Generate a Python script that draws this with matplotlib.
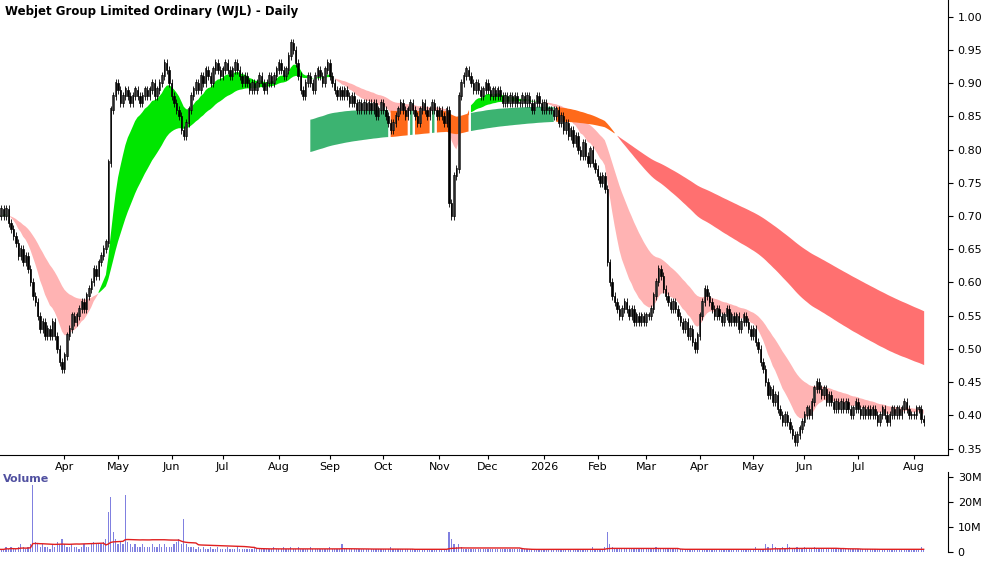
import numpy as np, pandas as pd, matplotlib
matplotlib.use("Agg")
import matplotlib.pyplot as plt

closes = [
0.70,0.71,
0.70,0.71,0.69,0.68,0.67,0.66,0.64,0.65,0.63,0.64,
0.62,0.60,0.58,0.57,0.55,0.53,0.54,0.52,0.53,0.52,
0.54,0.52,0.50,0.48,0.47,0.49,0.52,0.53,0.55,0.54,
0.55,0.56,0.57,0.56,0.58,0.59,0.60,0.62,0.61,0.63,
0.64,0.65,0.66,0.78,0.86,0.88,0.90,0.89,0.87,0.88,
0.89,0.88,0.87,0.88,0.89,0.88,0.87,0.88,0.89,0.88,
0.89,0.90,0.88,0.89,0.90,0.91,0.93,0.92,0.90,0.88,
0.87,0.86,0.85,0.83,0.82,0.84,0.86,0.88,0.89,0.90,
0.89,0.91,0.90,0.92,0.91,0.90,0.92,0.93,0.92,0.91,
0.92,0.93,0.92,0.91,0.92,0.93,0.92,0.91,0.90,0.91,
0.90,0.89,0.90,0.89,0.90,0.91,0.90,0.89,0.90,0.91,
0.90,0.91,0.92,0.93,0.92,0.91,0.92,0.94,0.96,0.95,
0.93,0.91,0.89,0.88,0.90,0.91,0.90,0.89,0.91,0.92,
0.91,0.90,0.92,0.93,0.91,0.90,0.89,0.88,0.89,0.88,
0.89,0.88,0.87,0.88,0.87,0.86,0.87,0.86,0.87,0.86,0.87,0.86,0.87,
0.85,0.86,0.87,0.86,0.85,0.84,0.83,0.84,0.85,0.86,
0.87,0.86,0.85,0.86,0.87,0.86,0.85,0.84,0.86,0.87,
0.86,0.85,0.86,0.87,0.86,0.85,0.86,0.85,0.84,0.86,
0.72,0.70,0.76,0.77,0.88,0.90,0.91,0.92,0.91,0.90,
0.89,0.90,0.89,0.88,0.89,0.90,0.89,0.88,0.89,0.88,
0.89,0.88,0.87,0.88,0.87,0.88,0.87,0.88,0.87,0.87,0.88,0.87,
0.88,0.87,0.86,0.87,0.88,0.87,0.86,0.87,0.86,0.86,
0.86,0.85,0.86,0.84,0.85,0.83,0.84,0.82,0.83,0.81,
0.82,0.80,0.79,0.81,0.79,0.78,0.80,0.78,0.77,0.76,
0.75,0.76,0.74,0.63,0.60,0.58,0.57,0.56,0.55,0.56,
0.57,0.56,0.55,0.56,0.54,0.55,0.54,0.55,0.54,0.55,0.55,
0.56,0.58,0.60,0.62,0.61,0.59,0.58,0.57,0.56,0.57,
0.56,0.55,0.54,0.53,0.54,0.52,0.53,0.51,0.50,0.52,
0.55,0.57,0.59,0.58,0.57,0.56,0.55,0.56,0.55,0.54,
0.55,0.56,0.54,0.55,0.54,0.55,0.53,0.54,0.55,0.54,
0.53,0.52,0.53,0.51,0.50,0.48,0.47,0.45,0.43,0.44,
0.42,0.43,0.41,0.40,0.39,0.40,0.39,0.38,0.37,0.36,
0.37,0.38,0.39,0.40,0.41,0.40,0.42,0.44,0.45,0.44,
0.43,0.44,0.42,0.43,0.42,0.41,0.42,0.41,0.42,0.41,
0.42,0.41,0.40,0.41,0.42,0.41,0.40,0.41,0.40,0.41,
0.40,0.41,0.40,0.39,0.40,0.41,0.40,0.39,0.40,0.41,
0.40,0.41,0.40,0.41,0.42,0.41,0.40,0.40,0.40,0.41,
0.41,0.395,0.39]

volumes_m = [
1,1,
1,2,1,2,1,1,2,3,2,1,
2,3,27,4,3,2,3,2,2,1,
3,2,4,3,5,3,2,2,3,2,
2,1,2,3,2,2,3,4,3,3,
3,4,5,16,22,8,5,3,4,3,
23,4,3,2,3,2,2,3,2,2,
2,3,2,2,3,2,3,2,2,2,
3,4,5,3,13,3,2,2,2,1,
2,1,2,1,1,2,1,1,2,1,
1,1,2,1,1,1,2,1,1,1,
1,1,1,2,1,1,1,1,1,1,
1,2,1,1,1,2,1,1,2,1,
1,2,1,1,1,1,2,1,1,1,
1,1,1,1,2,1,1,1,1,3,
1,1,1,1,1,1,1,1,1,1,1,1,1,
1,1,1,1,1,1,2,1,1,1,
1,1,1,1,1,1,1,1,1,1,
1,1,1,1,1,1,1,1,1,1,
8,5,3,2,3,2,1,1,1,1,
1,1,1,1,1,1,1,1,1,1,
1,1,1,1,1,1,1,1,1,1,1,1,
1,1,1,1,1,1,1,1,1,1,
1,1,1,1,1,1,1,1,1,1,
1,1,1,1,1,1,1,2,1,1,
1,1,2,8,3,2,1,1,1,1,
1,1,1,1,1,1,1,1,1,1,1,
1,1,2,1,1,1,1,1,1,1,
1,1,1,1,1,1,1,1,1,1,
1,1,1,1,1,1,1,1,1,1,
1,1,1,1,1,1,1,1,1,1,
1,1,1,2,1,1,1,3,2,1,
3,2,1,1,2,1,3,2,1,1,
2,1,1,2,1,1,1,2,1,1,
1,1,1,1,1,1,1,1,1,1,
1,1,1,1,1,1,1,1,1,1,
1,1,1,1,1,1,1,1,1,1,
1,1,1,1,1,1,1,1,1,1,
1,2,1]

dates = pd.bdate_range("2025-02-21", periods=len(closes))
c = pd.Series(closes)
o = c.shift(1).fillna(c.iloc[0])
hi = np.maximum(o, c) + 0.006
lo = np.minimum(o, c) - 0.006
x = np.arange(len(c))

s1 = c.ewm(span=12, adjust=False).mean(); s2 = c.ewm(span=35, adjust=False).mean()
l1 = c.ewm(span=110, adjust=False).mean(); l2 = c.ewm(span=200, adjust=False).mean()
warm = 128
stop, sbot = np.maximum(s1, s2), np.minimum(s1, s2)
ltop, lbot = np.maximum(l1, l2), np.minimum(l1, l2)

fig = plt.figure(figsize=(10, 5.62), dpi=100)
ax = fig.add_axes([0.0, 0.19, 0.948, 0.81])
av = fig.add_axes([0.0, 0.018, 0.948, 0.142], sharex=ax)

up_s = (s1 > s2).values
above = (sbot > ltop).values | (x < warm)
ax.fill_between(x, sbot, stop, where=~up_s, color="#ffb3b3", lw=0, interpolate=True)
ax.fill_between(x, sbot, stop, where=up_s & above, color="#00e600", lw=0)
ax.fill_between(x, sbot, stop, where=up_s & ~above, color="#ff6a1a", lw=0)
m = x >= warm
lup = (l1 > l2).values
lg = (sbot > ltop).values
ax.fill_between(x, lbot, ltop, where=m & ~lup, color="#ff7070", lw=0)
ax.fill_between(x, lbot, ltop, where=m & lup & lg, color="#3cb371", lw=0)
ax.fill_between(x, lbot, ltop, where=m & lup & ~lg, color="#ff6a1a", lw=0)

ax.vlines(x, lo, hi, color="black", lw=0.6)
upc = (c >= o).values
ax.bar(x[upc], (c - o)[upc].values + 0.002, bottom=o[upc].values, width=0.6, color="white", edgecolor="black", lw=0.5)
ax.bar(x[~upc], (o - c)[~upc].values, bottom=c[~upc].values, width=0.6, color="black", edgecolor="black", lw=0.5)

ax.set_ylim(0.34, 1.025)
ax.set_xlim(0.5, 390)
ax.yaxis.tick_right()
ax.set_yticks(np.arange(0.35, 1.001, 0.05))
ax.set_yticklabels([f"{v:.2f}" for v in np.arange(0.35, 1.001, 0.05)], fontsize=8)
mt = [i for i in range(12, len(dates)) if dates[i].month != dates[i-1].month]
ax.set_xticks(mt)
ax.set_xticklabels(["2026" if dates[i].month == 1 else dates[i].strftime("%b") for i in mt], fontsize=8)
ax.tick_params(axis="x", length=3, pad=2)
for s in ["top", "left"]:
    ax.spines[s].set_visible(False)
ax.text(0.005, 0.99, "Webjet Group Limited Ordinary (WJL) - Daily", transform=ax.transAxes,
        fontsize=8.5, fontweight="bold", va="top")

vol = np.array(volumes_m) * 1e6
av.bar(x, vol, width=0.5, color="#8080e0")
av.plot(x, pd.Series(vol).rolling(30, min_periods=1).mean(), color="#e02020", lw=1)
av.set_ylim(0, 32e6)
av.yaxis.tick_right()
av.set_yticks([0, 10e6, 20e6, 30e6]); av.set_yticklabels(["0", "10M", "20M", "30M"], fontsize=8)
av.tick_params(axis="x", bottom=False, labelbottom=False)
for s in ["top", "left", "bottom"]:
    av.spines[s].set_visible(False)
av.text(0.003, 0.97, "Volume", transform=av.transAxes, fontsize=8, color="#5050a0", fontweight="bold", va="top")
fig.savefig("out.png", dpi=100)
